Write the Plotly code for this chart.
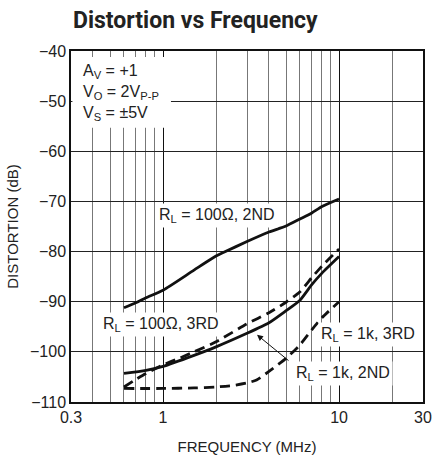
import numpy as np
import plotly.graph_objects as go

# frequency (MHz) and distortion (dB)
freq_2nd_100 = [0.6, 0.7, 0.8, 1, 1.5, 2, 2.2, 3, 4, 5, 6, 7, 8, 10]
dist_2nd_100 = [-91.2, -90.2, -89.2, -87.7, -83.7, -80.9, -80.2, -78.0, -76.1, -74.9, -73.5, -72.3, -71.0, -69.5]

freq_solid_low = [0.6, 0.8, 1, 1.5, 2, 3, 4, 5, 6, 7, 8, 10]
dist_solid_low = [-104.3, -103.7, -102.9, -100.7, -99.0, -96.3, -94.2, -91.8, -89.7, -86.6, -84.3, -81.0]

freq_dash_high = [0.6, 0.7, 0.8, 1, 1.25, 1.5, 2, 3, 4, 5, 6, 7, 8, 10]
dist_dash_high = [-107.0, -105.5, -104.3, -102.6, -101.2, -100.0, -98.0, -94.4, -92.2, -90.1, -88.0, -85.2, -82.9, -79.5]

freq_dash_low = [0.6, 1, 1.5, 2, 2.5, 3, 3.4, 4, 5, 6, 7, 8, 10]
dist_dash_low = [-107.3, -107.3, -107.2, -107.0, -106.7, -106.2, -105.6, -103.9, -101.3, -98.6, -95.6, -93.2, -90.0]

x_ticks = [0.3, 1, 10, 30]
x_minor = [0.4, 0.5, 0.6, 0.7, 0.8, 0.9, 2, 3, 4, 5, 6, 7, 8, 9, 20]
y_ticks = [-110, -100, -90, -80, -70, -60, -50, -40]

font = "Liberation Sans, Arial, sans-serif"

fig = go.Figure()
lw = 2.8
sm = 0.6
fig.add_scatter(x=freq_2nd_100, y=dist_2nd_100, mode="lines", line=dict(color="#111", width=lw, shape="spline", smoothing=sm))
fig.add_scatter(x=freq_solid_low, y=dist_solid_low, mode="lines", line=dict(color="#111", width=lw, shape="spline", smoothing=sm))
fig.add_scatter(x=freq_dash_high, y=dist_dash_high, mode="lines", line=dict(color="#111", width=lw, dash="10px,6px", shape="spline", smoothing=sm))
fig.add_scatter(x=freq_dash_low, y=dist_dash_low, mode="lines", line=dict(color="#111", width=lw, dash="10px,6px", shape="spline", smoothing=sm))

fig.update_xaxes(type="log", range=[np.log10(0.3), np.log10(30)],
                 tickvals=x_ticks, ticktext=["0.3", "1", "10", "30"],
                 showgrid=True, gridcolor="#111", gridwidth=1,
                 minor=dict(tickvals=x_minor, showgrid=True, gridcolor="#777", gridwidth=1, ticks=""),
                 showline=True, linecolor="#111", linewidth=1.5, mirror=True,
                 ticks="", zeroline=False, automargin=False,
                 title=dict(text="FREQUENCY (MHz)", font=dict(size=15, color="#222"), standoff=17),
                 tickfont=dict(size=16, color="#222"))
fig.update_yaxes(range=[-110, -40], tickvals=y_ticks,
                 showgrid=True, gridcolor="#222", gridwidth=1,
                 showline=True, linecolor="#111", linewidth=1.5, mirror=True,
                 ticks="", zeroline=False, automargin=False,
                 title=dict(text="DISTORTION (dB)", font=dict(size=15, color="#222"), standoff=8),
                 tickfont=dict(size=16, color="#222"))

# white box behind the test conditions
fig.add_shape(type="rect", xref="paper", yref="paper", x0=0.004, x1=0.284, y0=0.781, y1=0.983,
              fillcolor="white", line=dict(width=0), layer="above")
fig.add_annotation(xref="paper", yref="paper", x=0.028, y=0.975, xanchor="left", yanchor="top",
                   align="left", showarrow=False, font=dict(size=16, color="#222"),
                   text="A<sub>V</sub> = +1<br>V<sub>O</sub> = 2V<sub>P-P</sub><br>V<sub>S</sub> = ±5V")

labels = [
    ("R<sub>L</sub> = 100Ω, 2ND", 2.02, -72.9),
    ("R<sub>L</sub> = 100Ω, 3RD", 0.98, -94.6),
    ("R<sub>L</sub> = 1k, 3RD", 14.6, -96.6),
    ("R<sub>L</sub> = 1k, 2ND", 10.6, -104.3),
]
for txt, fx, dy in labels:
    fig.add_annotation(x=np.log10(fx), y=dy, text=txt, showarrow=False, bgcolor="white",
                       borderpad=2, font=dict(size=16, color="#222"))

fig.add_annotation(x=np.log10(3.42), y=-96.6, ax=33, ay=27, text="", showarrow=True,
                   arrowhead=2, arrowsize=1.2, arrowwidth=1, arrowcolor="#111")

fig.update_layout(width=432, height=458, margin=dict(l=71, r=9, t=51, b=56),
                  plot_bgcolor="white", paper_bgcolor="white", showlegend=False,
                  font=dict(family=font, color="#222"),
                  title=dict(text="<b>Distortion vs Frequency</b>", x=73/432, xanchor="left",
                             y=1 - 20/458, yanchor="middle",
                             font=dict(family="Liberation Sans Narrow, Roboto, sans-serif", size=23, color="#222")))

fig.write_html("out.html", config={"displayModeBar": False},
               post_script="document.body.style.margin='0';")
